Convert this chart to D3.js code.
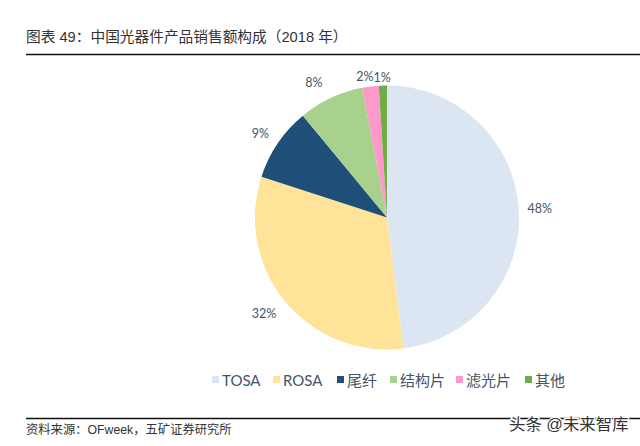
<!DOCTYPE html>
<html>
<head>
<meta charset="utf-8">
<script src="https://cdnjs.cloudflare.com/ajax/libs/d3/7.8.5/d3.min.js"></script>
<style>
  html, body { margin: 0; padding: 0; background: #fff; }
  svg { display: block; }
  text { font-family: "Liberation Sans", "Noto Sans CJK SC", sans-serif; }
  .lab { font-family: "Lato", "Noto Sans CJK SC", sans-serif; fill: #44546a; }
</style>
</head>
<body>
<svg id="svg"></svg>
<script>
const categories = ["TOSA", "ROSA", "尾纤", "结构片", "滤光片", "其他"];
const shares = [48, 32, 9, 8, 2, 1];
const colors = ["#dce6f2", "#ffe398", "#1f4e79", "#a9d18e", "#ff99cc", "#70ad47"];

const titleText = "图表 49：中国光器件产品销售额构成（2018 年）";
const sourceText = "资料来源：OFweek，五矿证券研究所";
const watermark = "头条 @未来智库";

let width = 640;
let height = 446;
let cx = 387;
let cy = 217.5;
let radius = 132;

// labels do not sit on one ring in the original, so nudge them off the arc centroid
const labelNudge = [[0, 2], [-5, 0], [0, 3], [-8, 5], [-3, 12], [0, 14]];
const legendX = [212, 273, 337, 390, 456, 525];

let svg = d3.select("#svg").attr("width", width).attr("height", height);

svg.append("text")
    .attr("x", 26)
    .attr("y", 42)
    .attr("font-size", 14.7)
    .attr("fill", "#333")
    .text(titleText);

svg.append("line")
    .attr("x1", 26).attr("x2", 640)
    .attr("y1", 54.5).attr("y2", 54.5)
    .attr("stroke", "#111").attr("stroke-width", 1.5);

let pie = d3.pie().sort(null).value(d => d);
let arc = d3.arc().innerRadius(0).outerRadius(radius);
let labelArc = d3.arc().innerRadius(153).outerRadius(153);

let chart = svg.append("g").attr("transform", `translate(${cx},${cy})`);
let arcs = pie(shares);

chart.selectAll("path")
    .data(arcs)
    .join("path")
    .attr("d", arc)
    .attr("fill", (d, i) => colors[i]);

chart.selectAll("text")
    .data(arcs)
    .join("text")
    .attr("class", "lab")
    .attr("x", (d, i) => labelArc.centroid(d)[0] + labelNudge[i][0])
    .attr("y", (d, i) => labelArc.centroid(d)[1] + labelNudge[i][1])
    .attr("text-anchor", "middle")
    .attr("dominant-baseline", "middle")
    .attr("font-size", 12.5)
    .text(d => d.data + "%");

let legend = svg.append("g");
categories.forEach((name, i) => {
    legend.append("rect")
        .attr("x", legendX[i]).attr("y", 376)
        .attr("width", 7).attr("height", 7)
        .attr("fill", colors[i]);
    legend.append("text")
        .attr("class", "lab")
        .attr("x", legendX[i] + 10)
        .attr("y", 386)
        .attr("font-size", 15)
        .text(name);
});

svg.append("line")
    .attr("x1", 26).attr("x2", 640)
    .attr("y1", 418.5).attr("y2", 418.5)
    .attr("stroke", "#111").attr("stroke-width", 1.5);

svg.append("text")
    .attr("x", 26)
    .attr("y", 434)
    .attr("font-size", 12.3)
    .attr("fill", "#333")
    .text(sourceText);

svg.append("text")
    .attr("x", 509)
    .attr("y", 430)
    .attr("font-size", 16.4)
    .attr("fill", "#333")
    .attr("stroke", "#fff")
    .attr("stroke-width", 2.5)
    .attr("paint-order", "stroke")
    .text(watermark);
</script>
</body>
</html>
